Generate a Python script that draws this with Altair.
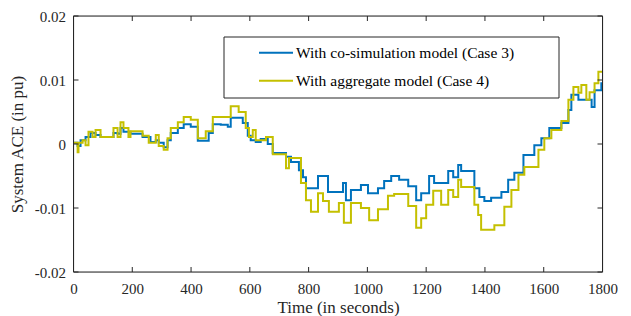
import altair as alt
import pandas as pd

# ---- data (time in s, ACE in pu) ----
t_case3 = [0, 14, 24, 41, 58, 75, 92, 136, 150, 160, 170, 194, 235, 262, 280, 290, 307, 320, 331, 355,
           375, 399, 423, 460, 474, 501, 525, 535, 576, 593, 603, 620, 637, 661, 678, 723, 740, 767, 781,
           791, 832, 866, 917, 927, 944, 978, 1002, 1036, 1057, 1081, 1108, 1139, 1166, 1183, 1210, 1227,
           1275, 1292, 1309, 1319, 1364, 1381, 1398, 1421, 1456, 1479, 1500, 1531, 1568, 1592, 1619, 1660,
           1684, 1694, 1718, 1763, 1773, 1796, 1800]
v_case3 = [0.0002, -0.0003, 0.0006, 0.0011, 0.0017, 0.0014, 0.0011, 0.0017, 0.0016, 0.0025, 0.0019,
           0.0016, 0.0011, 0.0003, 0.0006, 0.0002, -0.0005, 0.0006, 0.0017, 0.0025, 0.0031, 0.0027, 0.0005,
           0.0017, 0.0031, 0.0030, 0.0027, 0.0041, 0.0033, 0.0013, 0.0006, 0.0003, 0.0008, 0.0000, -0.0014,
           -0.0020, -0.0028, -0.0041, -0.0052, -0.0069, -0.0050, -0.0075, -0.0061, -0.0088, -0.0072,
           -0.0064, -0.0077, -0.0069, -0.0058, -0.0050, -0.0056, -0.0066, -0.0088, -0.0077, -0.0050,
           -0.0061, -0.0042, -0.0052, -0.0033, -0.0042, -0.0069, -0.0083, -0.0089, -0.0084, -0.0075,
           -0.0056, -0.0045, -0.0017, -0.0002, 0.0009, 0.0025, 0.0033, 0.0053, 0.0077, 0.0069, 0.0058,
           0.0084, 0.0095, 0.0095]

t_case4 = [0, 14, 17, 31, 41, 51, 65, 75, 92, 136, 150, 160, 170, 187, 194, 235, 256, 280, 290, 307,
           320, 331, 355, 375, 399, 423, 450, 474, 535, 562, 586, 597, 610, 620, 655, 678, 723, 733, 774,
           791, 808, 832, 849, 869, 903, 920, 944, 978, 1006, 1036, 1070, 1091, 1139, 1166, 1183, 1200,
           1224, 1251, 1275, 1292, 1309, 1319, 1364, 1377, 1387, 1432, 1466, 1490, 1514, 1534, 1582, 1602,
           1626, 1660, 1684, 1701, 1718, 1728, 1745, 1756, 1773, 1786, 1800]
v_case4 = [0.0002, -0.0013, 0.0002, 0.0006, -0.0002, 0.0019, 0.0011, 0.0022, 0.0011, 0.0025, 0.0011,
           0.0034, 0.0025, 0.0011, 0.0020, 0.0013, 0.0002, 0.0014, -0.0003, -0.0009, 0.0009, 0.0025,
           0.0034, 0.0042, 0.0038, 0.0009, 0.0020, 0.0042, 0.0059, 0.0050, 0.0025, 0.0011, 0.0022, 0.0006,
           0.0011, -0.0016, -0.0038, -0.0022, -0.0061, -0.0088, -0.0106, -0.0077, -0.0089, -0.0106,
           -0.0092, -0.0123, -0.0092, -0.0100, -0.0119, -0.0102, -0.0081, -0.0078, -0.0097, -0.0131,
           -0.0116, -0.0095, -0.0073, -0.0095, -0.0072, -0.0083, -0.0056, -0.0067, -0.0095, -0.0111,
           -0.0134, -0.0127, -0.0098, -0.0072, -0.0048, -0.0036, -0.0009, 0.0009, 0.0022, 0.0036, 0.0069,
           0.0089, 0.0080, 0.0092, 0.0069, 0.0081, 0.0095, 0.0113, 0.0113]

series_names = ["With co-simulation model (Case 3)", "With aggregate model (Case 4)"]
series_colors = ["#0072BD", "#C4C000"]
x_ticks = [0, 200, 400, 600, 800, 1000, 1200, 1400, 1600, 1800]
y_ticks = [-0.02, -0.01, 0, 0.01, 0.02]
x_title = "Time (in seconds)"
y_title = "System ACE (in pu)"

W, H = 529, 256
FONT = "Liberation Serif"
AX = "#262626"

df3 = pd.DataFrame({"t": t_case3, "v": v_case3})
df4 = pd.DataFrame({"t": t_case4, "v": v_case4})

x_scale = alt.Scale(domain=[0, 1800], nice=False, zero=False)
y_scale = alt.Scale(domain=[-0.02, 0.02], nice=False, zero=False)

x_axis = alt.Axis(values=x_ticks, format="d", title=x_title, grid=False, domain=False, ticks=False,
                  labelFlush=False, labelPadding=9, labelFontSize=15, titleFontSize=17,
                  titleX=W / 2, titleY=35, titleBaseline="middle", labelFont=FONT, titleFont=FONT,
                  labelColor=AX, titleColor=AX, titleFontWeight="normal")
y_axis = alt.Axis(values=y_ticks, title=y_title, grid=False, domain=False, ticks=False,
                  labelFlush=False, labelPadding=8, labelFontSize=15, titleFontSize=17,
                  titleX=-56, titleY=H / 2, titleAngle=270, titleBaseline="middle",
                  titleAlign="center", labelFont=FONT, titleFont=FONT, labelColor=AX,
                  titleColor=AX, titleFontWeight="normal",
                  labelExpr="datum.value == 0 ? '0' : (datum.value < 0 ? '-' + format(-datum.value, '.2f') : format(datum.value, '.2f'))")

X = alt.X("t:Q", scale=x_scale, axis=x_axis)
Y = alt.Y("v:Q", scale=y_scale, axis=y_axis)

line3 = alt.Chart(df3).mark_line(interpolate="step-after", strokeWidth=2, color=series_colors[0]).encode(x=X, y=Y)
line4 = alt.Chart(df4).mark_line(interpolate="step-after", strokeWidth=2, color=series_colors[1]).encode(x=X, y=Y)

xt = pd.DataFrame({"t": x_ticks})
yt = pd.DataFrame({"v": y_ticks})
TL = 5
bottom_ticks = alt.Chart(xt).mark_rule(color=AX, strokeWidth=1).encode(x=X, y=alt.value(H), y2=alt.value(H - TL))
top_ticks = alt.Chart(xt).mark_rule(color=AX, strokeWidth=1).encode(x=X, y=alt.value(0), y2=alt.value(TL))
left_ticks = alt.Chart(yt).mark_rule(color=AX, strokeWidth=1).encode(y=Y, x=alt.value(0), x2=alt.value(TL))
right_ticks = alt.Chart(yt).mark_rule(color=AX, strokeWidth=1).encode(y=Y, x=alt.value(W), x2=alt.value(W - TL))

one = pd.DataFrame({"a": [0]})
frame = alt.Chart(one).mark_rect(fill=None, fillOpacity=0, stroke=AX, strokeWidth=1).encode(
    x=alt.value(0), x2=alt.value(W), y=alt.value(0), y2=alt.value(H))

# legend box (decoration)
leg_box = alt.Chart(one).mark_rect(fill="white", stroke=AX, strokeWidth=1).encode(
    x=alt.value(150.5), x2=alt.value(485.5), y=alt.value(21), y2=alt.value(82))
leg_items = []
for i, (name, col) in enumerate(zip(series_names, series_colors)):
    yy = 36.7 + 28 * i
    leg_items.append(alt.Chart(one).mark_rule(color=col, strokeWidth=2).encode(
        x=alt.value(185.5), x2=alt.value(219.5), y=alt.value(yy)))
    leg_items.append(alt.Chart(one).mark_text(text=name, align="left", baseline="middle", font=FONT,
                                              fontSize=15.5, color="black").encode(
        x=alt.value(222.5), y=alt.value(yy)))

chart = alt.layer(line3, line4, bottom_ticks, top_ticks, left_ticks, right_ticks, frame, leg_box, *leg_items).properties(
    width=W, height=H,
    autosize=alt.AutoSizeParams(type="none"),
    padding={"left": 65.5, "top": 8, "right": 15, "bottom": 44},
).configure_view(stroke=None).configure_axis(titleFontWeight="normal").configure(background="white")

chart.save("out.html", embed_options={"renderer": "svg", "actions": False})
